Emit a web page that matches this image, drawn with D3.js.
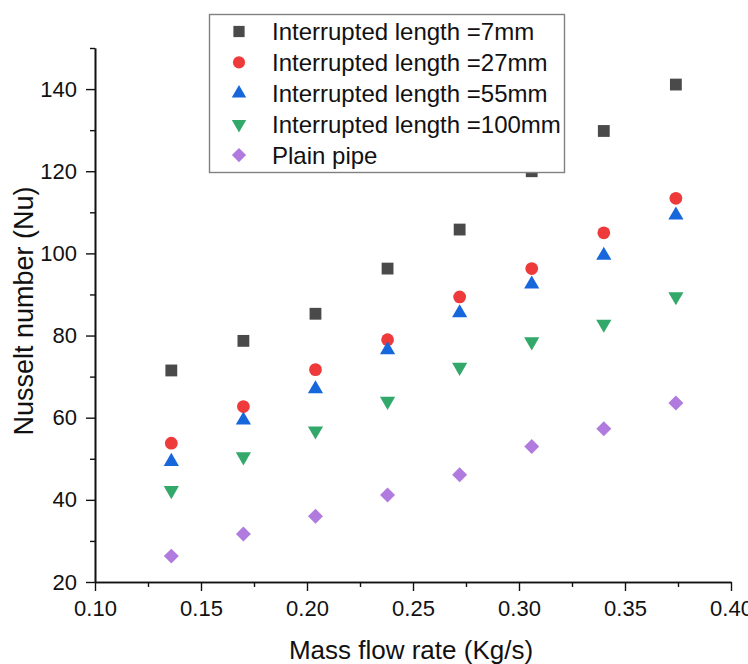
<!DOCTYPE html>
<html>
<head>
<meta charset="utf-8">
<script src="https://cdn.jsdelivr.net/npm/d3@7"></script>
<style>
  body { margin: 0; background: #fff; }
  text { font-family: "Liberation Sans", Arial, sans-serif; fill: #111; }
</style>
</head>
<body>
<div id="chart"></div>
<script>
// mass flow rate (Kg/s)
var flowRates = [0.136, 0.170, 0.204, 0.238, 0.272, 0.306, 0.340, 0.374];

// Nusselt number for each case
var nu7mm   = [71.5, 78.7, 85.3, 96.3, 105.8, 120.0, 129.8, 141.1];
var nu27mm  = [53.8, 62.7, 71.7, 79.0, 89.4, 96.3, 105.0, 113.4];
var nu55mm  = [49.3, 59.4, 67.0, 76.5, 85.5, 92.5, 99.5, 109.3];
var nu100mm = [42.3, 50.5, 56.8, 64.0, 72.3, 78.5, 82.8, 89.5];
var nuPlain = [26.3, 31.7, 36.0, 41.2, 46.1, 53.0, 57.3, 63.6];

var seriesNames = ["Interrupted length =7mm", "Interrupted length =27mm",
                   "Interrupted length =55mm", "Interrupted length =100mm", "Plain pipe"];

var xTicks = [0.10, 0.15, 0.20, 0.25, 0.30, 0.35, 0.40];
var xMinor = [0.125, 0.175, 0.225, 0.275, 0.325, 0.375];
var yTicks = [20, 40, 60, 80, 100, 120, 140];
var yMinor = [30, 50, 70, 90, 110, 130, 150];

var width = 748, height = 664;

var x = d3.scaleLinear().domain([0.1, 0.4]).range([95, 731]);
var y = d3.scaleLinear().domain([20, 150]).range([582, 48]);

// marker style per series
var styles = [
  {color: "#4a4a4a", type: d3.symbolSquare, size: 140, rot: 0},
  {color: "#ef3a3c", type: d3.symbolCircle, size: 128, rot: 0},
  {color: "#1767dc", type: d3.symbolTriangle, size: 100, rot: 0},
  {color: "#32a96a", type: d3.symbolTriangle, size: 100, rot: 180},
  {color: "#b07ade", type: d3.symbolSquare, size: 112, rot: 45}
];

var allSeries = [nu7mm, nu27mm, nu55mm, nu100mm, nuPlain].map(function(vals, i) {
  return {name: seriesNames[i], style: styles[i],
          points: vals.map(function(v, j) { return {x: flowRates[j], y: v}; })};
});

var svg = d3.select("#chart").append("svg")
    .attr("width", width)
    .attr("height", height);

// axes (major + minor ticks)
function styleAxis(g) {
  g.selectAll("path.domain").attr("stroke", "#111").attr("stroke-width", 1.6);
  g.selectAll(".tick line").attr("stroke", "#111").attr("stroke-width", 1.4);
  g.selectAll(".tick text")
      .style("font-size", "22px")
      .style("font-family", "Liberation Sans, Arial, sans-serif")
      .attr("fill", "#111");
}

svg.append("g")
    .attr("transform", "translate(0,582)")
    .call(d3.axisBottom(x).tickValues(xTicks).tickFormat(d3.format(".2f"))
          .tickSize(9).tickSizeOuter(0).tickPadding(9))
    .call(styleAxis);

svg.append("g")
    .attr("transform", "translate(0,582)")
    .call(d3.axisBottom(x).tickValues(xMinor).tickFormat("").tickSize(5).tickSizeOuter(0))
    .call(styleAxis);

svg.append("g")
    .attr("transform", "translate(95,0)")
    .call(d3.axisLeft(y).tickValues(yTicks).tickSize(9).tickSizeOuter(0).tickPadding(9))
    .call(styleAxis);

svg.append("g")
    .attr("transform", "translate(95,0)")
    .call(d3.axisLeft(y).tickValues(yMinor).tickFormat("").tickSize(5).tickSizeOuter(0))
    .call(styleAxis);

// axis titles
svg.append("text")
    .attr("x", 411)
    .attr("y", 659)
    .attr("text-anchor", "middle")
    .style("font-size", "26px")
    .text("Mass flow rate (Kg/s)");

svg.append("text")
    .attr("transform", "translate(33,311) rotate(-90)")
    .attr("text-anchor", "middle")
    .style("font-size", "27px")
    .text("Nusselt number (Nu)");

// points
allSeries.forEach(function(s) {
  svg.append("g").selectAll("path")
      .data(s.points)
      .enter().append("path")
      .attr("d", d3.symbol().type(s.style.type).size(s.style.size))
      .attr("transform", function(d) {
        return "translate(" + x(d.x) + "," + y(d.y) + ") rotate(" + s.style.rot + ")";
      })
      .attr("fill", s.style.color);
});

// legend
var legend = svg.append("g");
legend.append("rect")
    .attr("x", 209.5).attr("y", 14.5)
    .attr("width", 355).attr("height", 158)
    .attr("fill", "#fff")
    .attr("stroke", "#808080")
    .attr("stroke-width", 1.4);

allSeries.forEach(function(s, i) {
  var cy = 31.5 + i * 30.9;
  legend.append("path")
      .attr("d", d3.symbol().type(s.style.type).size(s.style.size * 0.9))
      .attr("transform", "translate(239," + cy + ") rotate(" + s.style.rot + ")")
      .attr("fill", s.style.color);
  legend.append("text")
      .attr("x", 272)
      .attr("y", cy + 8.5)
      .style("font-size", "24px")
      .text(s.name);
});
</script>
</body>
</html>
